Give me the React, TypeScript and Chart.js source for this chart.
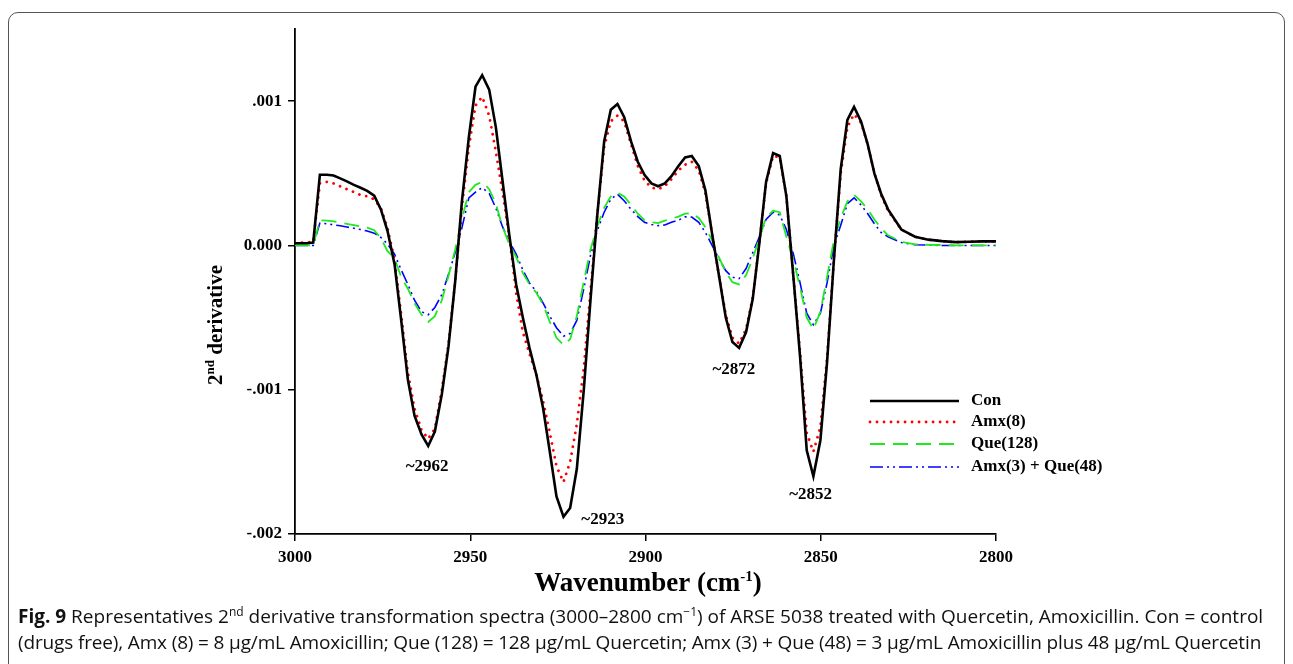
import React, { useEffect, useRef } from "react";
import { Chart, registerables } from "chart.js";

Chart.register(...registerables);

// Wavenumbers (cm-1) of the sampled spectrum points
const WAVENUMBERS = [
  3000,
  2998.7, 2996.7, 2994.8,
  2992.9, 2990.9, 2989.0, 2987.1, 2985.2, 2983.2, 2981.3, 2979.4, 2977.4, 2975.5, 2973.6,
  2971.6, 2969.7, 2967.8, 2965.9, 2963.9,
  2962.0, 2960.1, 2958.1, 2956.2, 2954.3, 2952.4, 2950.4, 2948.5, 2946.6, 2944.6,
  2942.7, 2940.8, 2938.9, 2936.9, 2935.0, 2933.1, 2931.1, 2929.2, 2927.3, 2925.4,
  2923.4, 2921.5, 2919.6, 2917.6, 2915.7, 2913.8, 2911.8, 2909.9, 2908.0, 2906.1,
  2904.1, 2902.2, 2900.3, 2898.3, 2896.4, 2894.5, 2892.6, 2890.6, 2888.7, 2886.8,
  2884.8, 2882.9, 2881.0, 2879.1, 2877.1, 2875.2, 2873.3, 2871.3, 2869.4, 2867.5,
  2865.6, 2863.6, 2861.7, 2859.8, 2857.8, 2855.9, 2854.0, 2852.1, 2850.1, 2848.2,
  2846.3, 2844.3, 2842.4, 2840.5, 2838.5, 2836.6, 2834.7, 2832.8, 2830.8,
  2827.0, 2823.1, 2819.3, 2815.4, 2811.5, 2807.7, 2803.8, 2800.0,
];

// 2nd derivative values, in units of 1e-4
const CON = [
  0.15,
  0.15, 0.15, 0.2,
  4.9, 4.9, 4.85, 4.65, 4.44, 4.2, 4.0, 3.78, 3.45, 2.5, 1.0,
  -1.3, -5.2, -9.3, -11.8, -13.1,
  -13.9, -12.9, -10.3, -7.0, -2.5, 3.0, 7.5, 11.0, 11.8, 10.8,
  8.2, 4.5, 0.8, -2.7, -5.0, -7.1, -9.0, -11.3, -14.3, -17.4,
  -18.8, -18.2, -15.5, -10.0, -3.8, 2.0, 7.2, 9.4, 9.8, 8.9,
  7.2, 5.8, 4.9, 4.3, 4.1, 4.3, 4.8, 5.5, 6.1, 6.2,
  5.5, 3.8, 0.8, -2.0, -5.0, -6.7, -7.1, -6.0, -3.7, 0.2,
  4.4, 6.4, 6.2, 3.4, -2.2, -7.7, -14.2, -16.0, -13.5, -8.1,
  -1.2, 5.3, 8.7, 9.6, 8.6, 7.0, 5.0, 3.6, 2.5,
  1.1, 0.6, 0.4, 0.3, 0.23, 0.25, 0.28, 0.28,
];

const AMX8 = [
  0.2,
  0.2, 0.2, 0.25,
  4.3, 4.4, 4.3, 4.1, 3.9, 3.7, 3.5, 3.4, 3.2, 2.6, 1.2,
  -1.0, -4.8, -8.8, -11.3, -12.8,
  -13.4, -12.7, -10.0, -6.8, -2.5, 2.6, 6.8, 9.7, 10.3, 9.0,
  6.5, 3.7, 0.7, -3.3, -6.0, -7.5, -9.0, -10.8, -13.0, -15.3,
  -16.4, -15.0, -12.4, -8.5, -3.2, 2.0, 6.8, 8.6, 9.0, 8.6,
  7.0, 5.5, 4.5, 4.0, 3.9, 4.1, 4.6, 5.2, 5.6, 5.8,
  5.2, 3.6, 0.8, -2.0, -4.8, -6.4, -6.8, -5.8, -3.6, 0.2,
  4.3, 6.2, 6.1, 3.4, -2.2, -7.4, -13.0, -14.3, -12.6, -7.8,
  -1.2, 5.0, 8.2, 9.1, 8.5, 7.0, 5.0, 3.5, 2.4,
  1.1, 0.6, 0.4, 0.3, 0.22, 0.25, 0.28, 0.28,
];

const QUE128 = [
  0,
  0, 0, 0,
  1.75, 1.72, 1.66, 1.58, 1.5, 1.41, 1.32, 1.24, 1.05, 0.5, -0.4,
  -0.9, -2.2, -3.0, -4.0, -4.8,
  -5.3, -4.9, -3.8, -2.1, -0.3, 1.8, 3.7, 4.2, 4.4, 3.9,
  2.9, 1.3, 0.1, -0.8, -1.9, -2.7, -3.3, -4.1, -5.3, -6.4,
  -6.9, -6.5, -4.9, -2.5, -0.3, 1.3, 2.6, 3.4, 3.65, 3.4,
  2.8, 2.2, 1.75, 1.6, 1.55, 1.72, 1.85, 2.0, 2.2, 2.25,
  1.9, 1.25, 0.35, -0.8, -1.85, -2.55, -2.7, -2.05, -0.9, 0.5,
  1.95, 2.4, 2.3, 0.6, -1.0, -2.9, -5.0, -5.8, -4.6, -2.2,
  0.3, 1.9, 3.05, 3.5, 3.05, 2.5, 1.8, 1.2, 0.7,
  0.25, 0.08, 0.04, 0.03, 0, 0, 0, 0,
];

const AMX3_QUE48 = [
  0,
  0, 0, 0,
  1.55, 1.5, 1.43, 1.36, 1.28, 1.19, 1.1, 1.0, 0.85, 0.55, 0.1,
  -0.6, -1.7, -2.7, -3.8, -4.6,
  -4.8, -4.3, -3.4, -2.0, -0.5, 1.2, 3.3, 3.7, 4.0, 3.6,
  2.6, 1.3, 0.3, -0.6, -1.7, -2.6, -3.2, -4.0, -4.9, -5.7,
  -6.3, -6.1, -5.2, -3.0, -0.7, 1.0, 2.3, 3.2, 3.55, 3.1,
  2.5, 2.0, 1.6, 1.45, 1.37, 1.42, 1.6, 1.75, 1.98, 1.97,
  1.6, 0.9, 0.0, -0.9, -1.75, -2.2, -2.3, -1.6, -0.5, 0.6,
  1.8, 2.3, 2.1, 1.1, -0.6, -2.6, -4.7, -5.5, -4.7, -2.6,
  -0.1, 1.4, 2.9, 3.3, 2.8, 2.2, 1.5, 0.9, 0.6,
  0.2, 0.05, 0.02, 0, 0, 0, 0, 0,
];

const UNIT = 1e-4;

const SERIES_LABELS = ["Con", "Amx(8)", "Que(128)", "Amx(3) + Que(48)"];
const X_TICKS = [3000, 2950, 2900, 2850, 2800];
const Y_TICKS = [-0.002, -0.001, 0, 0.001];
const Y_TICK_LABELS = ["-.002", "-.001", "0.000", ".001"];

const PEAK_LABELS = ["~2962", "~2923", "~2872", "~2852"];
const PEAK_LABEL_WN = [2962.3, 2912.2, 2874.8, 2852.9];
const PEAK_LABEL_Y = [-0.001536, -0.0019, -0.000859, -0.00173];

const SERIF = '"Liberation Serif", "Times New Roman", serif';

const STYLES = [
  { color: "#000000", width: 2.6, dash: [] as number[], cap: "butt" as CanvasLineCap },
  { color: "#ff0000", width: 2.8, dash: [0.01, 7], cap: "round" as CanvasLineCap },
  { color: "#1fe81f", width: 1.8, dash: [15, 8], cap: "butt" as CanvasLineCap },
  { color: "#0000ff", width: 1.6, dash: [13, 4, 2, 4, 2, 4], cap: "butt" as CanvasLineCap },
];

function drawSuperText(
  ctx: CanvasRenderingContext2D,
  parts: { t: string; sup?: boolean }[],
  cx: number,
  cy: number,
  size: number,
  supSize: number,
  supRaise: number
) {
  const big = `bold ${size}px ${SERIF}`;
  const small = `bold ${supSize}px ${SERIF}`;
  let total = 0;
  const widths = parts.map((p) => {
    ctx.font = p.sup ? small : big;
    const w = ctx.measureText(p.t).width;
    total += w;
    return w;
  });
  let x = cx - total / 2;
  ctx.textAlign = "left";
  ctx.textBaseline = "alphabetic";
  parts.forEach((p, i) => {
    ctx.font = p.sup ? small : big;
    ctx.fillText(p.t, x, p.sup ? cy - supRaise : cy);
    x += widths[i];
  });
}

const overlayPlugin = {
  id: "overlay",
  afterDraw(chart: any) {
    const { ctx, scales } = chart;
    const xs = scales.x;
    const ys = scales.y;
    ctx.save();
    ctx.fillStyle = "#000";

    // peak annotations
    ctx.font = `bold 17px ${SERIF}`;
    ctx.textAlign = "center";
    ctx.textBaseline = "middle";
    PEAK_LABELS.forEach((t, i) => {
      ctx.fillText(t, xs.getPixelForValue(PEAK_LABEL_WN[i]), ys.getPixelForValue(PEAK_LABEL_Y[i]));
    });

    // legend
    const lx0 = 870;
    const lx1 = 959;
    const rows = [401, 422, 444, 467];
    SERIES_LABELS.forEach((label, i) => {
      const st = STYLES[i];
      ctx.beginPath();
      ctx.strokeStyle = st.color;
      ctx.lineWidth = st.width;
      ctx.lineCap = st.cap;
      ctx.setLineDash(st.dash);
      ctx.moveTo(lx0, rows[i]);
      ctx.lineTo(lx1, rows[i]);
      ctx.stroke();
      ctx.setLineDash([]);
      ctx.font = `bold 17px ${SERIF}`;
      ctx.textAlign = "left";
      ctx.textBaseline = "middle";
      ctx.fillText(label, 971, rows[i]);
    });

    // x-axis title
    drawSuperText(
      ctx,
      [{ t: "Wavenumber (cm" }, { t: "-1", sup: true }, { t: ")" }],
      648,
      591,
      27,
      15,
      10
    );

    // y-axis title (rotated)
    ctx.save();
    ctx.translate(222, 325);
    ctx.rotate(-Math.PI / 2);
    drawSuperText(
      ctx,
      [{ t: "2" }, { t: "nd", sup: true }, { t: " derivative" }],
      0,
      0,
      21,
      13,
      8
    );
    ctx.restore();

    ctx.restore();
  },
};

export default function App() {
  const canvasRef = useRef<HTMLCanvasElement | null>(null);

  useEffect(() => {
    const canvas = canvasRef.current;
    if (!canvas) return;
    const series = [CON, AMX8, QUE128, AMX3_QUE48];
    const tickFont = { family: SERIF, size: 17, weight: "bold" as const };
    const chart = new Chart(canvas, {
      type: "line",
      data: {
        datasets: series.map((s, i) => ({
          label: SERIES_LABELS[i],
          data: WAVENUMBERS.map((w, k) => ({ x: w, y: s[k] * UNIT })),
          borderColor: STYLES[i].color,
          borderWidth: STYLES[i].width,
          borderDash: STYLES[i].dash,
          borderCapStyle: STYLES[i].cap,
          borderJoinStyle: "miter" as CanvasLineJoin,
          pointRadius: 0,
          tension: 0,
          fill: false,
        })),
      },
      options: {
        responsive: false,
        animation: false,
        layout: { padding: { left: 0, top: 29, right: 297, bottom: 0 } },
        plugins: { legend: { display: false }, tooltip: { enabled: false } },
        scales: {
          x: {
            type: "linear",
            reverse: true,
            min: 2800,
            max: 3000,
            afterBuildTicks: (s: any) => {
              s.ticks = X_TICKS.map((v) => ({ value: v }));
            },
            afterFit: (s: any) => {
              s.height = 664 - 534;
            },
            ticks: {
              font: tickFont,
              color: "#000",
              padding: 6,
              autoSkip: false,
              maxRotation: 0,
              callback: (v: any) => String(v),
            },
            grid: { drawOnChartArea: false, drawTicks: true, tickLength: 7, color: "#000", lineWidth: 1.5 },
            border: { display: true, color: "#000", width: 1.8 },
          },
          y: {
            type: "linear",
            min: -0.002,
            max: 0.0015,
            afterBuildTicks: (s: any) => {
              s.ticks = Y_TICKS.map((v) => ({ value: v }));
            },
            afterFit: (s: any) => {
              s.width = 295;
            },
            ticks: {
              font: tickFont,
              color: "#000",
              padding: 6,
              callback: (v: any) => {
                const i = Y_TICKS.findIndex((t) => Math.abs(t - v) < 1e-9);
                return i >= 0 ? Y_TICK_LABELS[i] : "";
              },
            },
            grid: { drawOnChartArea: false, drawTicks: true, tickLength: 7, color: "#000", lineWidth: 1.5 },
            border: { display: true, color: "#000", width: 1.8 },
          },
        },
      },
      plugins: [overlayPlugin],
    });
    return () => chart.destroy();
  }, []);

  const captionFont = '"Open Sans", "Noto Sans", sans-serif';
  const supStyle = { fontSize: 12, lineHeight: 0 };

  return (
    <div>
      <div
        style={{
          position: "absolute",
          left: 8,
          top: 12,
          width: 1277,
          height: 720,
          border: "1px solid #555",
          borderRadius: 10,
          boxSizing: "border-box",
        }}
      />
      <canvas
        ref={canvasRef}
        width={1293}
        height={664}
        style={{ position: "absolute", left: 0, top: 0, width: 1293, height: 664 }}
      />
      <div
        style={{
          position: "absolute",
          left: 18,
          top: 603,
          fontFamily: captionFont,
          fontSize: 19,
          lineHeight: "26px",
          color: "#111",
          whiteSpace: "nowrap",
        }}
      >
        <div>
          <b>Fig. 9</b> Representatives 2<sup style={supStyle}>nd</sup> derivative transformation spectra
          (3000–2800 cm<sup style={supStyle}>−1</sup>) of ARSE 5038 treated with Quercetin, Amoxicillin. Con =
          control
        </div>
        <div style={{ letterSpacing: "-0.15px" }}>
          (drugs free), Amx (8) = 8 μg/mL Amoxicillin; Que (128) = 128 μg/mL Quercetin; Amx (3) + Que (48) = 3
          μg/mL Amoxicillin plus 48 μg/mL Quercetin
        </div>
      </div>
    </div>
  );
}
